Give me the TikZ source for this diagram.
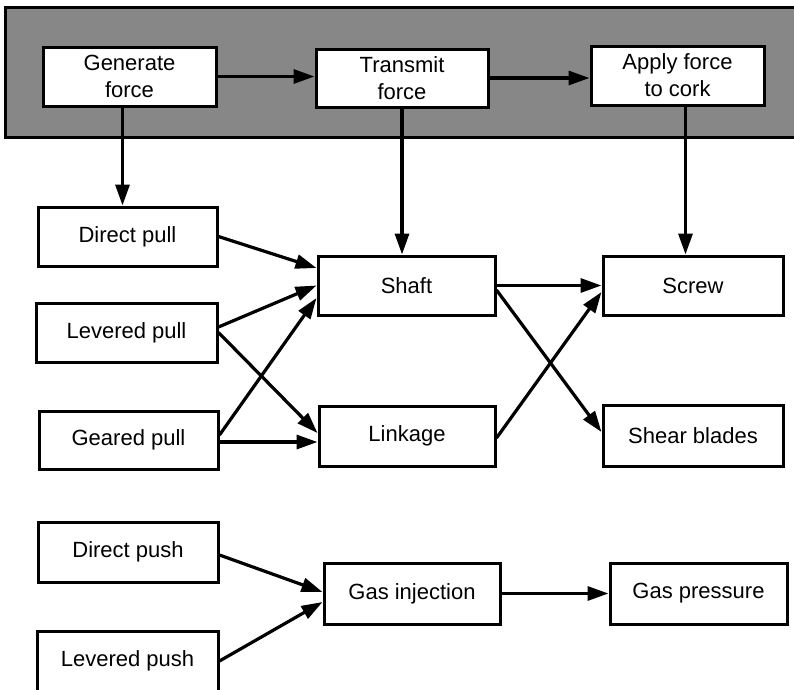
\documentclass[tikz,border=0pt]{standalone}
\usepackage{fontspec}
\setmainfont{Liberation Sans}
\usetikzlibrary{arrows.meta}
\begin{document}
\begin{tikzpicture}[x=1pt,y=-1pt,
  box/.style={draw=black,line width=3pt,fill=white,inner sep=0pt,align=center,
    font=\fontsize{22}{27}\selectfont},
  arr/.style={line width=3.2pt,-{Triangle[length=21pt,width=14pt]}},
  band/.style={draw=black,line width=3pt,fill=black!47}]
\useasboundingbox (0,0) rectangle (794,689);
\fill[white] (0,0) rectangle (794,689);
\draw[band] (5,7) rectangle (810,137);
\node[box,minimum width=173pt,minimum height=59pt] (gen) at (129.5,76.5) {Generate\\force};
\node[box,minimum width=172pt,minimum height=58pt] (trans) at (402,78) {Transmit\\force};
\node[box,minimum width=173pt,minimum height=59pt] (apply) at (677.5,75.5) {Apply force\\to cork};
\node[box,minimum width=179pt,minimum height=59pt] (dpull) at (127.5,236.5) {Direct pull};
\node[box,minimum width=181pt,minimum height=59pt] (lpull) at (126.5,332.5) {Levered pull};
\node[box,minimum width=179pt,minimum height=58pt] (gpull) at (128.5,440) {Geared pull};
\node[box,minimum width=177pt,minimum height=59pt] (shaft) at (406.5,285.5) {Shaft};
\node[box,minimum width=176pt,minimum height=60pt] (link) at (407,436) {Linkage};
\node[box,minimum width=180pt,minimum height=59pt] (screw) at (693,285.5) {Screw};
\node[box,minimum width=180pt,minimum height=61pt] (shear) at (693,435.5) {Shear blades};
\node[box,minimum width=180pt,minimum height=60pt] (dpush) at (128,552) {Direct push};
\node[box,minimum width=181pt,minimum height=60pt] (lpush) at (127.5,661) {Levered push};
\node[box,minimum width=176pt,minimum height=61pt] (gasinj) at (412,593.5) {Gas injection};
\node[box,minimum width=177pt,minimum height=61pt] (gaspr) at (698.5,593.5) {Gas pressure};
% top row
\draw[arr] (gen.east) -- (gen.east -| trans.west);
\draw[arr] (trans.east) -- (trans.east -| apply.west);
\draw[arr] ([xshift=-7pt]gen.south) -- ([xshift=-7pt]gen.south |- dpull.north);
\draw[arr] (trans.south) -- (trans.south |- shaft.north);
\draw[arr] ([xshift=8pt]apply.south) -- ([xshift=8pt]apply.south |- screw.north);
% left to middle
\draw[arr] (dpull.east) -- ([yshift=17.5pt]shaft.west);
\draw[arr] ([yshift=5.5pt]lpull.east) -- (shaft.west);
\draw[arr] (lpull.east) -- ([yshift=3pt]link.west);
\draw[arr] ([yshift=5pt]gpull.east) -- ([yshift=-12.5pt]shaft.west);
\draw[arr] ([yshift=-2pt]gpull.east) -- ([yshift=-2pt]gpull.east -| link.west);
% middle to right
\draw[arr] (shaft.east) -- (shaft.east -| screw.west);
\draw[arr] ([yshift=-4.5pt]shaft.east) -- ([yshift=3.5pt]shear.west);
\draw[arr] ([yshift=-2pt]link.east) -- ([yshift=-6.5pt]screw.west);
% bottom
\draw[arr] ([yshift=-3pt]dpush.east) -- ([yshift=1.5pt]gasinj.west);
\draw[arr] (lpush.east) -- ([yshift=-8.5pt]gasinj.west);
\draw[arr] (gasinj.east) -- (gasinj.east -| gaspr.west);
\end{tikzpicture}
\end{document}
